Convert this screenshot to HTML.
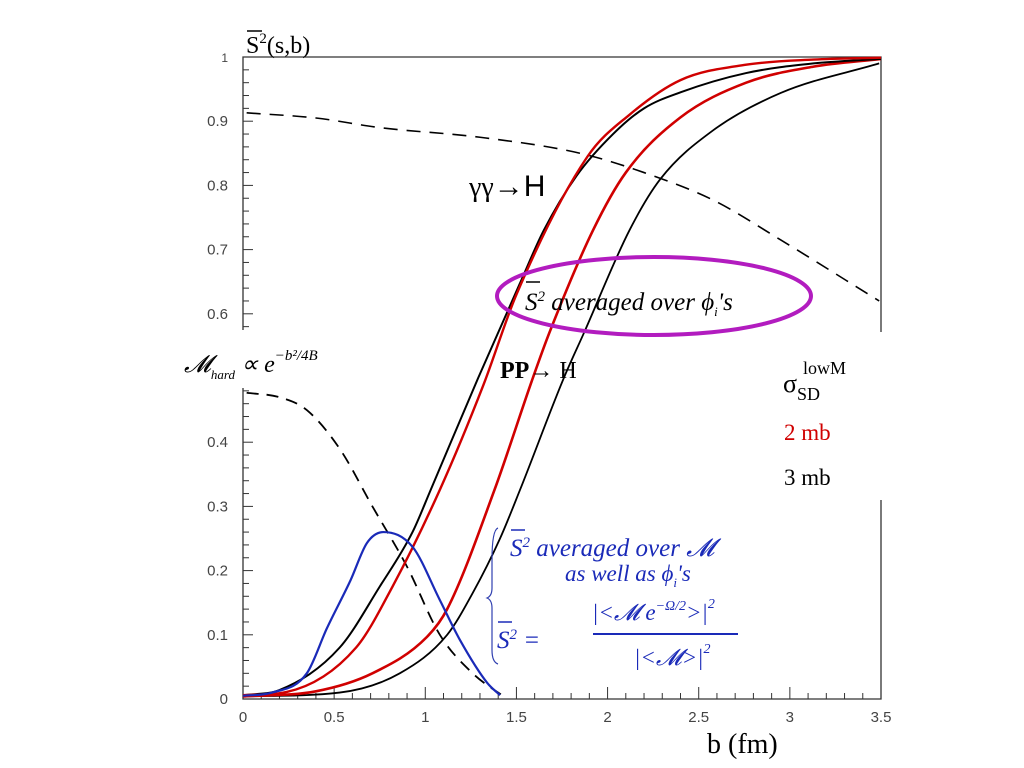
<!DOCTYPE html>
<html><head><meta charset="utf-8"><style>
body{margin:0;background:#fff;width:1024px;height:768px;overflow:hidden}
svg{position:absolute;left:0;top:0}
</style></head><body>
<svg id="c" width="1024" height="768" viewBox="0 0 1024 768">
<g id="axes"></g>
<g id="series"></g>
<g id="labels">
 <text x="246" y="53" font-family="Liberation Serif, serif" font-size="24">S<tspan dy="-10" font-size="15">2</tspan><tspan dy="10">(s,b)</tspan></text>
 <line x1="247" y1="31" x2="262" y2="31" stroke="#000" stroke-width="1.5"/>
 <text x="469" y="196" font-family="Liberation Sans, sans-serif" font-size="30"><tspan font-family="Liberation Serif, serif" font-size="28">γγ</tspan><tspan font-weight="bold">→</tspan>H</text>
 <ellipse cx="654" cy="296" rx="157" ry="39" fill="none" stroke="#b21cbf" stroke-width="4"/>
 <text x="525" y="310" font-family="Liberation Serif, serif" font-style="italic" font-size="25">S<tspan dy="-9" font-size="15">2</tspan><tspan dy="9"> averaged over ϕ</tspan><tspan dy="6" font-size="13">i</tspan><tspan dy="-6">'s</tspan></text>
 <line x1="526" y1="282" x2="540" y2="282" stroke="#000" stroke-width="1.5"/>
 <text x="500" y="378" font-family="Liberation Serif, serif" font-weight="bold" font-size="24">PP<tspan font-weight="normal">→ H</tspan></text>
 <rect x="858" y="332" width="40" height="168" fill="#fff"/>
 <text x="803" y="374" font-family="Liberation Serif, serif" font-size="18">lowM</text>
 <text x="783" y="392" font-family="Liberation Serif, serif" font-size="26">σ<tspan font-size="18" dy="8">SD</tspan></text>
 <text x="784" y="440" font-family="Liberation Serif, serif" font-size="23" fill="#d00000">2 mb</text>
 <text x="784" y="485" font-family="Liberation Serif, serif" font-size="23" fill="#000">3 mb</text>
 <text x="184" y="372" font-family="Liberation Serif, serif" font-style="italic" font-size="24">𝓜<tspan font-size="13" dy="7">hard</tspan><tspan dy="-7"> ∝ e</tspan><tspan dy="-12" font-size="15">−b²/4B</tspan></text>
 <path d="M498 528 Q492 530 492 560 L492 588 Q492 596 487 598 Q492 600 492 608 L492 650 Q492 662 498 664" fill="none" stroke="#3040b0" stroke-width="1.2"/>
 <g fill="#1a2ab8" font-family="Liberation Serif, serif" font-style="italic">
  <text x="510" y="556" font-size="25">S<tspan dy="-9" font-size="15">2</tspan><tspan dy="9"> averaged over  𝓜</tspan></text>
  <line x1="511" y1="530" x2="525" y2="530" stroke="#1a2ab8" stroke-width="1.5"/>
  <text x="565" y="581" font-size="23">as well as ϕ<tspan dy="6" font-size="13">i</tspan><tspan dy="-6">'s</tspan></text>
  <text x="497" y="648" font-size="25">S<tspan dy="-9" font-size="15">2</tspan><tspan dy="9">  =</tspan></text>
  <line x1="498" y1="622" x2="512" y2="622" stroke="#1a2ab8" stroke-width="1.5"/>
  <text x="592" y="620" font-size="23">|&lt;𝓜 e<tspan dy="-10" font-size="14">−Ω/2</tspan><tspan dy="10">&gt;|</tspan><tspan dy="-12" font-size="14">2</tspan></text>
  <line x1="593" y1="634" x2="738" y2="634" stroke="#1a2ab8" stroke-width="2"/>
  <text x="634" y="665" font-size="23">|&lt;𝓜&gt;|<tspan dy="-12" font-size="14">2</tspan></text>
 </g>
 <text x="707" y="753" font-family="Liberation Serif, serif" font-size="28">b  (fm)</text>
</g>
</svg>
<script>
const xTicks=[0,0.5,1,1.5,2,2.5,3,3.5];
const xTickLabels=["0","0.5","1","1.5","2","2.5","3","3.5"];
const yTicks=[0,0.1,0.2,0.3,0.4,0.6,0.7,0.8,0.9,1];
const yTickLabels=["0","0.1","0.2","0.3","0.4","0.6","0.7","0.8","0.9","1"];
const blackA_b=[0,0.2,0.53,0.75,0.93,1.03,1.29,1.52,1.65,1.83,2.03,2.2,2.4,2.76,3.13,3.5];
const blackA_s=[0.006,0.014,0.08,0.175,0.26,0.326,0.5,0.648,0.73,0.815,0.88,0.92,0.945,0.975,0.99,0.997];
const redA_b=[0,0.24,0.62,0.82,1.08,1.32,1.5,1.89,2.12,2.4,2.76,3.13,3.5];
const redA_s=[0.006,0.011,0.08,0.175,0.326,0.49,0.63,0.845,0.91,0.964,0.988,0.996,0.999];
const redB_b=[0,0.4,0.71,1.01,1.12,1.38,1.59,1.68,1.92,2.1,2.4,2.76,3.13,3.5];
const redB_s=[0.004,0.012,0.04,0.097,0.14,0.326,0.5,0.57,0.73,0.82,0.906,0.96,0.985,0.997];
const blackB_b=[0,0.53,0.86,1.12,1.26,1.41,1.52,1.76,1.87,2.12,2.29,2.58,2.95,3.49];
const blackB_s=[0.004,0.01,0.04,0.1,0.165,0.25,0.326,0.5,0.57,0.73,0.81,0.886,0.944,0.99];
const omega_b=[0.02,0.4,0.75,1.3,1.85,2.2,2.58,2.95,3.49];
const omega_s=[0.913,0.905,0.89,0.875,0.85,0.82,0.777,0.715,0.62];
const mhard_b=[0.02,0.2,0.35,0.53,0.71,0.9,1.08,1.26,1.45];
const mhard_s=[0.477,0.47,0.45,0.39,0.3,0.206,0.1,0.04,0];
const blue_b=[0,0.16,0.35,0.46,0.59,0.68,0.77,0.93,1.08,1.19,1.34,1.41];
const blue_s=[0.005,0.01,0.04,0.11,0.185,0.243,0.26,0.237,0.154,0.092,0.025,0.006];

const X0=243,X1=881,Y0=699,Y1=57;
const sx=b=>X0+b*(X1-X0)/3.5;
const sy=v=>Y0-v*(Y0-Y1);
const NS='http://www.w3.org/2000/svg';
function mk(t,p,parent){const e=document.createElementNS(NS,t);for(const k in p)e.setAttribute(k,p[k]);parent.appendChild(e);return e;}
const ax=document.getElementById('axes');
let f=mk('path',{d:`M${X0} 330 L${X0} ${Y1} L${X1} ${Y1} L${X1} 332 M${X1} 500 L${X1} ${Y0} L${X0} ${Y0} L${X0} 388`,fill:'none',stroke:'#333','stroke-width':1.3},ax);


for(let i=0;i<=50;i++){const v=i/50;const y=sy(v);if(y>330&&y<388)continue;const major=i%5===0;
 const t=mk('line',{x1:X0,x2:X0+(major?10:6),y1:y,y2:y,stroke:'#333','stroke-width':1},ax);
 
 }
for(let i=0;i<=35;i++){const b=i/10;const x=sx(b);const major=i%5===0;
 const t=mk('line',{x1:x,x2:x,y1:Y0,y2:Y0-(major?12:6),stroke:'#333','stroke-width':1},ax);
 
 }
xTicks.forEach((b,i)=>{const t=mk('text',{x:sx(b),y:722,'text-anchor':'middle','font-family':'Liberation Sans, sans-serif','font-size':15,fill:'#444'},ax);t.textContent=xTickLabels[i];
 
 });
yTicks.forEach((v,i)=>{const t=mk('text',{x:228,y:sy(v)+5,'text-anchor':'end','font-family':'Liberation Sans, sans-serif','font-size':v===1?12:15,fill:'#444'},ax);t.textContent=yTickLabels[i];
 
 });
function pathD(xs,ys){const n=xs.length;const d=[],m=new Array(n);
 for(let i=0;i<n-1;i++)d.push((ys[i+1]-ys[i])/(xs[i+1]-xs[i]));
 m[0]=d[0];m[n-1]=d[n-2];
 for(let i=1;i<n-1;i++)m[i]=(d[i-1]*d[i]<=0)?0:(d[i-1]+d[i])/2;
 for(let i=0;i<n-1;i++){if(d[i]===0){m[i]=0;m[i+1]=0;continue;}const a=m[i]/d[i],b=m[i+1]/d[i],s=a*a+b*b;if(s>9){const t=3/Math.sqrt(s);m[i]=t*a*d[i];m[i+1]=t*b*d[i];}}
 let p=`M${sx(xs[0])} ${sy(ys[0])}`;
 for(let i=0;i<n-1;i++){const h=xs[i+1]-xs[i];
  p+=` C${sx(xs[i]+h/3)} ${sy(ys[i]+m[i]*h/3)} ${sx(xs[i+1]-h/3)} ${sy(ys[i+1]-m[i+1]*h/3)} ${sx(xs[i+1])} ${sy(ys[i+1])}`;}
 return p;}
const sg=document.getElementById('series');
function curve(bs,ss,color,w,dash,name){const e=mk('path',{d:pathD(bs,ss),fill:'none',stroke:color,'stroke-width':w},sg);
 if(dash)e.setAttribute('stroke-dasharray',dash);
 
 }
curve(omega_b,omega_s,'#000',1.6,'14 9','omega-dashed-curve');
curve(mhard_b,mhard_s,'#000',1.8,'12 8','m-hard-dashed-curve');
curve(blackB_b,blackB_s,'#000',1.8,null,'black-curve-pp');
curve(redB_b,redB_s,'#d00000',2.6,null,'red-curve-pp');
curve(blackA_b,blackA_s,'#000',2,null,'black-curve-gamma');
curve(redA_b,redA_s,'#d00000',2.4,null,'red-curve-gamma');
curve(blue_b,blue_s,'#1a2ab8',2.2,null,'blue-curve');
</script>
</body></html>
